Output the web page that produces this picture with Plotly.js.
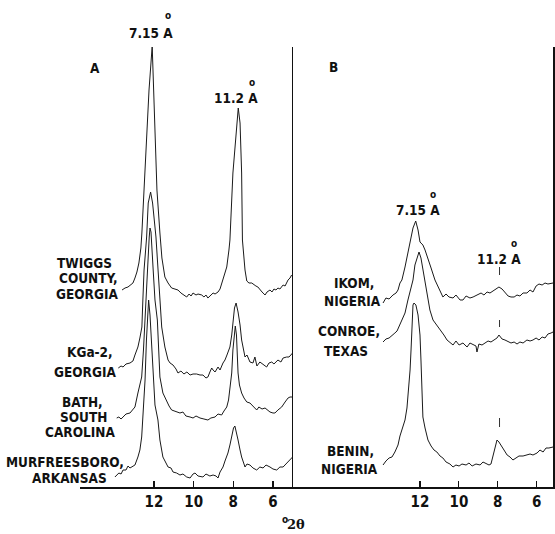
<!DOCTYPE html>
<html>
<head>
<meta charset="utf-8">
<script src="https://cdn.plot.ly/plotly-3.0.1.min.js"></script>
<style>html,body{margin:0;padding:0;background:#fff;}#chart{width:555px;height:534px;}</style>
</head>
<body>
<div id="chart"></div>
<script>
// ---------- DATA (x = degrees 2θ, y = relative intensity) ----------
const tickValues = [12, 10, 8, 6];
const tickLabels = ["12", "10", "8", "6"];

// Panel A
const twiggsX = [13.61,13.46,13.31,13.21,13.06,12.96,12.86,12.76,12.66,12.61,12.50,12.40,12.25,12.09,12.00,11.95,11.85,11.70,11.60,11.45,11.29,11.11,10.94,10.79,10.64,10.49,10.35,10.23,10.13,10.03,9.88,9.78,9.59,9.48,9.38,9.28,9.18,9.02,8.92,8.77,8.67,8.52,8.42,8.33,8.22,8.17,8.02,7.83,7.75,7.66,7.58,7.54,7.46,7.41,7.32,7.21,7.07,6.96,6.86,6.76,6.66,6.55,6.40,6.30,6.15,6.05,5.95,5.85,5.75,5.65,5.49,5.39,5.24,5.14,5.06];
const twiggsY = [197,199,200,202,204,209,215,224,239,254,302,347,397,441,392,347,297,254,229,210,204,199,198,197,194,192,190,193,191,194,192,193,192,190,192,189,191,194,193,195,198,207,214,220,237,247,314,364,379,364,314,247,225,217,206,204,204,202,201,200,197,195,192,195,197,195,198,197,199,198,202,201,207,209,212];

const kga2X = [13.80,13.66,13.56,13.41,13.21,13.06,12.96,12.81,12.71,12.62,12.61,12.56,12.50,12.37,12.29,12.17,12.07,11.90,11.80,11.70,11.61,11.45,11.29,11.19,11.04,10.89,10.79,10.64,10.49,10.34,10.18,10.03,9.85,9.68,9.53,9.38,9.28,9.18,9.09,9.02,8.92,8.77,8.67,8.52,8.42,8.32,8.17,8.08,8.02,7.94,7.86,7.76,7.66,7.58,7.41,7.31,7.16,7.01,6.91,6.81,6.66,6.50,6.32,6.20,6.06,5.95,5.75,5.60,5.49,5.31,5.19,5.01];
const kga2Y = [119,121,120,123,124,126,132,140,149,157,160,187,217,250,284,295,284,250,217,187,160,140,127,124,122,118,114,116,113,115,112,113,113,112,112,109,110,115,119,117,115,120,117,124,127,132,140,152,167,179,184,175,162,147,130,132,125,124,130,121,125,123,120,124,125,123,127,125,129,130,130,134];

const bathX = [13.88,13.77,13.66,13.56,13.41,13.21,13.06,12.96,12.81,12.73,12.62,12.53,12.45,12.38,12.35,12.24,12.20,12.15,12.04,11.95,11.83,11.77,11.70,11.55,11.36,11.24,11.11,10.94,10.69,10.54,10.39,10.18,10.03,9.88,9.68,9.48,9.28,9.13,8.92,8.77,8.59,8.47,8.33,8.24,8.17,8.08,8.02,7.95,7.90,7.84,7.76,7.69,7.58,7.46,7.32,7.16,7.01,6.82,6.71,6.55,6.40,6.25,6.15,6.00,5.90,5.75,5.56,5.39,5.24,5.14,5.01];
const bathY = [69,70,68,70,73,74,77,80,94,102,110,137,167,197,217,250,259,255,217,187,167,137,110,94,85,81,77,76,74,75,71,70,69,71,69,68,67,69,70,73,72,76,80,87,97,114,137,157,161,152,114,102,94,89,85,84,81,77,80,78,79,76,75,74,74,77,80,85,89,90,90];

const murfX = [13.97,13.88,13.77,13.66,13.56,13.41,13.31,13.21,13.06,12.96,12.81,12.71,12.62,12.56,12.45,12.38,12.33,12.27,12.20,12.13,12.05,11.95,11.80,11.70,11.55,11.42,11.29,11.14,11.04,10.86,10.69,10.54,10.35,10.18,10.03,9.93,9.78,9.53,9.38,9.18,9.02,8.87,8.77,8.67,8.52,8.42,8.27,8.17,8.08,7.99,7.92,7.84,7.76,7.66,7.58,7.41,7.31,7.16,7.01,6.82,6.66,6.50,6.35,6.15,6.00,5.81,5.65,5.49,5.34,5.24,5.14,5.01];
const murfY = [10,12,14,13,17,17,21,19,21,22,30,37,50,70,107,147,167,187,172,147,107,82,67,47,30,25,20,19,15,14,12,13,10,9,13,14,11,10,13,11,12,11,9,15,20,26,34,42,50,59,61,55,47,37,30,20,23,22,19,17,20,19,22,20,18,17,20,20,23,25,28,30];

// Panel B
const ikomX = [13.90,13.75,13.59,13.39,13.23,13.13,13.03,12.93,12.77,12.62,12.51,12.36,12.22,12.10,12.00,11.85,11.74,11.59,11.43,11.23,11.07,10.97,10.82,10.66,10.51,10.30,10.15,9.94,9.79,9.63,9.43,9.27,9.07,8.86,8.71,8.55,8.40,8.24,8.09,7.94,7.78,7.63,7.47,7.32,7.16,7.01,6.86,6.70,6.50,6.34,6.19,6.03,5.88,5.72,5.57,5.42,5.26,5.16];
const ikomY = [184,189,188,192,194,197,204,207,220,235,247,259,266,257,245,242,237,229,219,207,200,197,190,193,190,189,192,187,187,191,189,190,192,194,192,195,194,196,198,200,198,194,191,190,190,192,191,194,194,197,195,201,203,202,204,203,204,204];

const conroeX = [13.90,13.75,13.59,13.44,13.29,13.18,13.03,12.87,12.77,12.62,12.46,12.36,12.26,12.15,12.05,11.95,11.85,11.74,11.64,11.49,11.33,11.13,10.97,10.77,10.61,10.46,10.30,10.15,9.99,9.79,9.58,9.43,9.27,9.12,9.07,8.97,8.81,8.66,8.50,8.35,8.19,8.04,7.94,7.78,7.63,7.47,7.32,7.16,7.01,6.86,6.70,6.50,6.34,6.19,6.03,5.88,5.72,5.57,5.42,5.26,5.16];
const conroeY = [145,148,149,152,154,156,162,169,174,187,199,207,222,230,235,229,217,204,195,177,167,162,157,152,147,145,142,146,142,144,140,144,142,141,135,143,142,144,146,145,147,149,152,148,147,145,144,145,143,145,144,147,146,147,149,147,150,149,153,154,155];

const beninX = [13.90,13.75,13.59,13.44,13.29,13.13,13.03,12.93,12.77,12.67,12.57,12.51,12.46,12.41,12.36,12.31,12.21,12.10,12.00,11.95,11.90,11.85,11.74,11.59,11.43,11.28,11.13,10.97,10.82,10.66,10.46,10.30,10.15,9.99,9.84,9.63,9.48,9.32,9.12,8.91,8.76,8.60,8.45,8.35,8.24,8.14,8.04,7.94,7.83,7.68,7.52,7.37,7.22,7.06,6.91,6.70,6.50,6.34,6.19,5.98,5.83,5.67,5.52,5.37,5.16];
const beninY = [22,26,29,30,35,42,51,57,67,79,102,117,137,157,182,184,182,172,152,127,97,70,59,47,41,37,35,31,29,25,23,20,22,21,23,22,24,21,23,22,25,23,22,23,32,40,47,45,41,37,32,30,27,29,31,31,32,33,32,34,37,35,39,39,40];

// small dashed guide marks over the 11.2 Å position in panel B
const guideX = [7.91, 7.91, null, 7.91, 7.91, null, 7.91, 7.91];
const guideY = [212, 220, null, 160, 167, null, 60, 69];

// ---------- LABELS ----------
const sampleLinesA = ["TWIGGS","COUNTY,","GEORGIA","KGa-2,","GEORGIA","BATH,","SOUTH","CAROLINA","MURFREESBORO,","ARKANSAS"];
const sampleLinesB = ["IKOM,","NIGERIA","CONROE,","TEXAS","BENIN,","NIGERIA"];

// ---------- PLOT ----------
const FONT = "'DejaVu Sans Condensed', 'Liberation Sans Narrow', 'Liberation Sans', Arial, sans-serif";
const W = 555, H = 534, L = 80, R = 2, T = 47, B = 47;
const pw = W - L - R, ph = H - T - B;
const px = x => (x - L) / pw;
const py = y => (H - B - y) / ph;
const dA = [0, (293 - L) / pw];

const lineStyle = {color: '#1a1a1a', width: 1};
function tr(x, y, ax) {
  return {x: x, y: y, type: 'scatter', mode: 'lines', line: lineStyle,
    xaxis: ax === 2 ? 'x2' : 'x', yaxis: ax === 2 ? 'y2' : 'y', hoverinfo: 'skip', showlegend: false};
}
const data = [
  tr(twiggsX, twiggsY, 1), tr(kga2X, kga2Y, 1), tr(bathX, bathY, 1), tr(murfX, murfY, 1),
  tr(ikomX, ikomY, 2), tr(conroeX, conroeY, 2), tr(beninX, beninY, 2),
  Object.assign(tr(guideX, guideY, 2), {line: {color: '#333', width: 1}})
];

const tickFont = {family: FONT, size: 15, color: '#111', weight: 'bold'};
const labFont = {family: FONT, size: 13.5, color: '#111', weight: 'bold'};
const ringFont = {family: FONT, size: 10, color: '#111', weight: 'bold'};

function ann(text, x, y, font) {
  return {text: text, xref: 'paper', yref: 'paper', x: px(x), y: py(y),
    xanchor: 'center', yanchor: 'middle', showarrow: false, font: font || labFont};
}
const posA = [[84.5,263],[88.5,278],[87,294],[89.5,352],[85,372],[82,402],[83,417],[79.5,432],[65,462],[69.5,478]];
const posB = [[354,283],[352,301],[349,331],[346,351],[350,451],[349,469]];
const annotations = [];
sampleLinesA.forEach((t, i) => annotations.push(ann(t, posA[i][0], posA[i][1])));
sampleLinesB.forEach((t, i) => annotations.push(ann(t, posB[i][0], posB[i][1])));
// peak labels
annotations.push(ann('7.15 A', 151, 33));
annotations.push(ann('o', 168, 16, ringFont));
annotations.push(ann('11.2 A', 236, 98));
annotations.push(ann('o', 252, 82, ringFont));
annotations.push(ann('7.15 A', 418, 210));
annotations.push(ann('o', 433, 195, ringFont));
annotations.push(ann('11.2 A', 499, 259));
annotations.push(ann('o', 514, 243, ringFont));
annotations.push(ann('A', 95, 68));
annotations.push(ann('B', 333, 67));
annotations.push(ann('o', 284.5, 519, ringFont));
annotations.push(ann('2θ', 296, 524, {family: "'DejaVu Serif', serif", size: 13, color: '#111', weight: 'bold'}));

const xCommon = {
  tickmode: 'array', tickvals: tickValues, ticktext: tickLabels,
  ticks: 'inside', ticklen: 6, tickwidth: 1.2, tickcolor: '#111',
  showline: true, linecolor: '#111', linewidth: 1.5, mirror: false,
  showgrid: false, zeroline: false, tickfont: tickFont, fixedrange: true
};
const layout = {
  width: W, height: H,
  margin: {l: L, r: R, t: T, b: B, pad: 0},
  paper_bgcolor: '#fff', plot_bgcolor: '#fff',
  showlegend: false,
  xaxis: Object.assign({}, xCommon, {domain: dA, range: [15.73, 4.99], anchor: 'y'}),
  xaxis2: Object.assign({}, xCommon, {domain: [dA[1], 1], range: [18.53, 5.16], anchor: 'y2'}),
  yaxis: {domain: [0, 1], range: [0, 440], visible: false, fixedrange: true, anchor: 'x'},
  yaxis2: {domain: [0, 1], range: [0, 440], anchor: 'x2', showline: true, mirror: true,
    linecolor: '#111', linewidth: 1.5, showticklabels: false, ticks: '', showgrid: false, zeroline: false, fixedrange: true},
  annotations: annotations
};
Plotly.newPlot('chart', data, layout, {displayModeBar: false, staticPlot: true});
</script>
</body>
</html>
